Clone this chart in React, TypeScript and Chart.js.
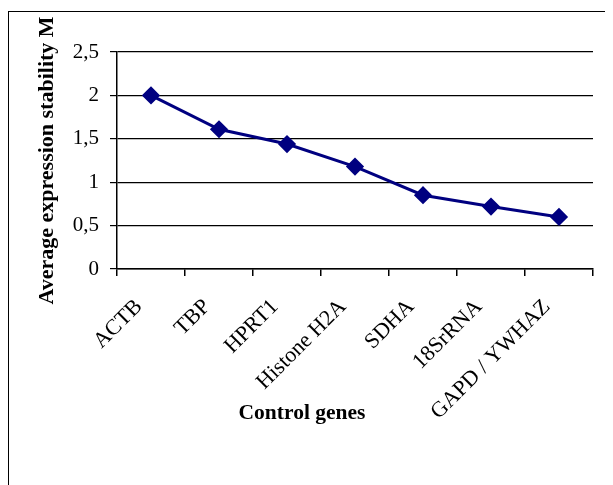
import React, { useEffect, useRef } from "react";
import { Chart, registerables } from "chart.js";

Chart.register(...registerables);

const categories = ["ACTB", "TBP", "HPRT1", "Histone H2A", "SDHA", "18SrRNA", "GAPD / YWHAZ"];
const stabilityM = [2.0, 1.61, 1.44, 1.18, 0.85, 0.72, 0.6];
const yTicks = [0, 0.5, 1, 1.5, 2, 2.5];
const yTitle = "Average expression stability M";
const xTitle = "Control genes";

const FONT = '"Liberation Serif", "Times New Roman", serif';

const xTitlePlugin = {
  id: "xTitlePlugin",
  afterDraw(chart: any) {
    const ctx = chart.ctx;
    ctx.save();
    ctx.font = `bold 21.5px ${FONT}`;
    ctx.fillStyle = "#000";
    ctx.textAlign = "center";
    ctx.textBaseline = "middle";
    ctx.fillText(xTitle, 293, 401);
    ctx.restore();
  },
};

export default function App() {
  const ref = useRef<HTMLCanvasElement | null>(null);
  useEffect(() => {
    if (!ref.current) return;
    const chart = new Chart(ref.current, {
      type: "line",
      data: {
        labels: categories,
        datasets: [
          {
            data: stabilityM,
            borderColor: "#000080",
            backgroundColor: "#000080",
            borderWidth: 3,
            pointStyle: "rectRot",
            pointRadius: 7,
            pointBackgroundColor: "#000080",
            pointBorderColor: "#000080",
            tension: 0,
          },
        ],
      },
      options: {
        animation: false,
        responsive: false,
        devicePixelRatio: 1,
        layout: { padding: { top: 40, right: 20, left: 0, bottom: 0 } },
        plugins: { legend: { display: false }, tooltip: { enabled: false } },
        scales: {
          x: {
            type: "category",
            offset: true,
            afterFit(scale: any) {
              scale.height = 216;
            },
            grid: {
              offset: true,
              drawOnChartArea: true,
              color: (c: any) => (c.index === categories.length ? "#808080" : "rgba(0,0,0,0)"),
              tickColor: (c: any) => (c.index === categories.length ? "#808080" : "#000"),
              tickLength: 7,
              lineWidth: 1.5,
            },
            border: { color: "#000", width: 1.5 },
            ticks: {
              minRotation: 45,
              maxRotation: 45,
              autoSkip: false,
              color: "#000",
              padding: 18,
              labelOffset: -12,
              font: { family: FONT, size: 22 },
            },
          },
          y: {
            min: 0,
            max: 2.5,
            afterFit(scale: any) {
              scale.width = 108;
            },
            afterBuildTicks(scale: any) {
              scale.ticks = yTicks.map((v) => ({ value: v }));
            },
            grid: { color: "#000", tickColor: "#000", tickLength: 7, lineWidth: 1.2 },
            border: { color: "#000", width: 1.5 },
            ticks: {
              color: "#000",
              padding: 11,
              font: { family: FONT, size: 21 },
              callback: (v: any) => String(v).replace(".", ","),
            },
            title: {
              display: true,
              text: yTitle,
              color: "#000",
              padding: { top: 25, bottom: 0 },
              font: { family: FONT, size: 22, weight: "bold" },
            },
          },
        },
      },
      plugins: [xTitlePlugin],
    });
    return () => chart.destroy();
  }, []);
  return (
    <div
      style={{
        marginTop: 3,
        borderLeft: "1px solid #000",
        borderTop: "1px solid #000",
        width: 605,
        height: 474,
        overflow: "hidden",
      }}
    >
      <canvas ref={ref} width={604} height={473} style={{ display: "block" }} />
    </div>
  );
}
